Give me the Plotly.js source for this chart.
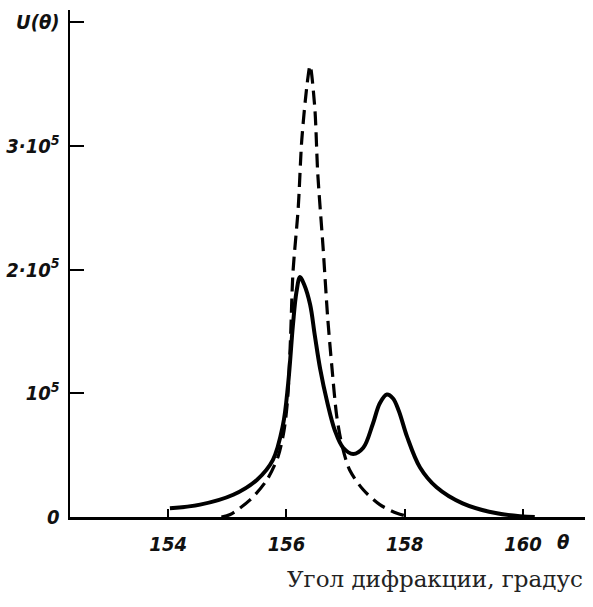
<!DOCTYPE html>
<html>
<head>
<meta charset="utf-8">
<script src="https://cdn.plot.ly/plotly-3.0.1.min.js"></script>
<style>
  html, body { margin: 0; padding: 0; background: #fff; }
  #chart { width: 593px; height: 607px; }
</style>
</head>
<body>
<div id="chart"></div>
<script>
// Diffraction profile U(θ): resulting two-peak curve (solid) and single-line curve (dashed)
const thetaSolid = [154.03, 154.54, 155.10, 155.50, 155.77, 155.94, 156.03, 156.11, 156.17, 156.23,
                    156.30, 156.40, 156.48, 156.57, 156.69, 156.82, 156.96, 157.13, 157.30, 157.46,
                    157.58, 157.70, 157.80, 157.90, 158.04, 158.26, 158.54, 158.98, 159.56, 160.2];
const uSolid = [7000, 10000, 18000, 30000, 46000, 74000, 108000, 155000, 182000, 194000,
                188000, 172000, 147000, 120000, 93000, 70000, 56000, 51000, 56000, 75000,
                92000, 99000, 96000, 86000, 65000, 40000, 24000, 11000, 3000, 0];

const thetaDashed = [154.90, 155.05, 155.39, 155.67, 155.86, 155.96, 156.02, 156.07, 156.11, 156.20,
                     156.26, 156.35, 156.40, 156.48, 156.53, 156.62, 156.70, 156.77, 156.85, 156.94,
                     157.07, 157.30, 157.58, 157.87, 158.1];
const uDashed = [0, 2000, 14000, 30000, 49000, 70000, 95000, 145000, 197000, 250000,
                 305000, 350000, 365000, 331000, 278000, 218000, 160000, 121000, 82000, 58000,
                 38000, 22000, 10000, 3000, 0];

const xTickVals = [154, 156, 158, 160];
const xTickText = ['154', '156', '158', '160'];
const yTickVals = [0, 100000, 200000, 300000, 400000];
const yTickText = ['0', '10<sup>5</sup>', '2·10<sup>5</sup>', '3·10<sup>5</sup>', 'U(θ)'];

const tickFont = {
  family: '"Liberation Sans Narrow", "DejaVu Sans Condensed", "Liberation Sans", sans-serif',
  size: 20, color: '#111', style: 'italic', weight: 700
};

const traces = [
  {
    x: thetaSolid, y: uSolid, type: 'scatter', mode: 'lines',
    line: { color: '#000', width: 4, shape: 'spline', smoothing: 1 },
    hoverinfo: 'skip'
  },
  {
    x: thetaDashed, y: uDashed, type: 'scatter', mode: 'lines',
    line: { color: '#000', width: 3.2, dash: '14px,7px', shape: 'spline', smoothing: 0.8 },
    hoverinfo: 'skip'
  }
];

const layout = {
  width: 593, height: 607,
  margin: { l: 70, r: 8, t: 10, b: 90 },
  paper_bgcolor: '#fff', plot_bgcolor: '#fff',
  showlegend: false,
  xaxis: {
    range: [152.34, 161.05],
    tickvals: xTickVals, ticktext: xTickText,
    ticks: 'inside', ticklen: 8, tickwidth: 2, tickcolor: '#000',
    showline: true, linecolor: '#000', linewidth: 2.5,
    showgrid: false, zeroline: false,
    tickfont: tickFont, ticklabelstandoff: 7
  },
  yaxis: {
    range: [0, 410000],
    tickvals: yTickVals, ticktext: yTickText,
    ticks: 'inside', ticklen: 14, tickwidth: 2, tickcolor: '#000',
    showline: true, linecolor: '#000', linewidth: 2.5,
    showgrid: false, zeroline: false,
    tickfont: tickFont, ticklabelstandoff: 4
  },
  annotations: [
    {
      text: 'θ', xref: 'x', yref: 'paper', x: 160.67, y: -0.05,
      xanchor: 'center', yanchor: 'middle', showarrow: false,
      font: tickFont
    },
    {
      text: 'Угол дифракции, градус', xref: 'paper', yref: 'paper',
      x: 1, y: -0.122, xanchor: 'right', yanchor: 'middle', showarrow: false,
      font: { family: '"DejaVu Serif", "Liberation Serif", serif', size: 23, color: '#222' }
    }
  ]
};

Plotly.newPlot('chart', traces, layout, { displayModeBar: false, staticPlot: true });
</script>
</body>
</html>
